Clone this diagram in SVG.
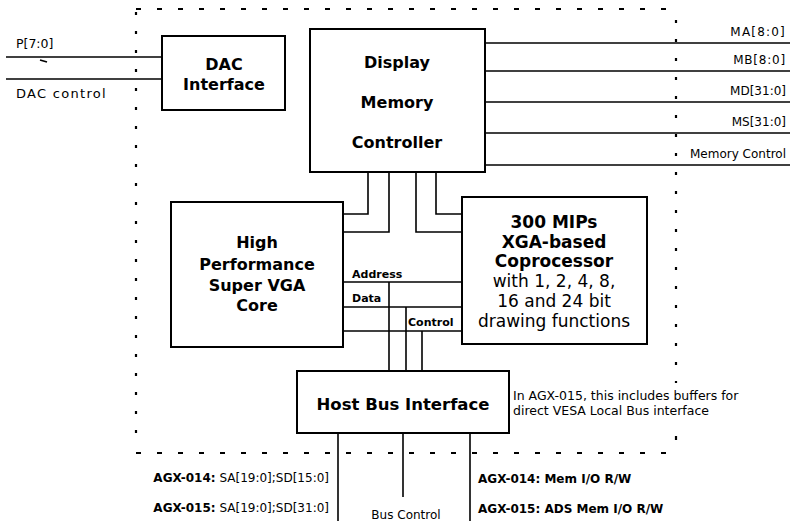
<svg xmlns="http://www.w3.org/2000/svg" width="790" height="521" viewBox="0 0 790 521">
<style>
.box{fill:#fff;stroke:#000;stroke-width:2}
.ln{fill:none;stroke:#000;stroke-width:1.6}
.bd{fill:none;stroke:#000;stroke-width:2.2}
.big{font-family:"DejaVu Sans",sans-serif;font-weight:bold;font-size:16px;text-anchor:middle;fill:#000}
.reg{font-family:"DejaVu Sans",sans-serif;font-size:17px;text-anchor:middle;fill:#000}
.sm{font-family:"DejaVu Sans",sans-serif;font-size:12px;fill:#000}
.smb{font-family:"DejaVu Sans",sans-serif;font-size:11px;font-weight:bold;fill:#000}
.note{font-family:"DejaVu Sans",sans-serif;font-size:12.5px;fill:#000}
</style>
<rect width="790" height="521" fill="#fff"/>
<g id="boundary">
<line class="bd" x1="136" y1="9" x2="676" y2="9" stroke-dasharray="5 16"/>
<line class="bd" x1="136" y1="453" x2="676" y2="453" stroke-dasharray="5 16"/>
<line class="bd" x1="136" y1="12" x2="136" y2="446" stroke-dasharray="3 16"/>
<line class="bd" x1="676" y1="20" x2="676" y2="383" stroke-dasharray="3 16"/>
<line class="bd" x1="676" y1="436" x2="676" y2="440"/>
</g>
<g id="connectors">
<line class="ln" x1="6" y1="57" x2="162" y2="57"/>
<line class="ln" x1="6" y1="79" x2="162" y2="79"/>
<line class="ln" x1="40" y1="60" x2="47" y2="62"/>
<line class="ln" x1="485" y1="43" x2="790" y2="43"/>
<line class="ln" x1="485" y1="71" x2="790" y2="71"/>
<line class="ln" x1="485" y1="102" x2="790" y2="102"/>
<line class="ln" x1="485" y1="133" x2="790" y2="133"/>
<line class="ln" x1="485" y1="165" x2="790" y2="165"/>
<polyline class="ln" points="368,172 368,214 343,214"/>
<polyline class="ln" points="389,172 389,232 343,232"/>
<polyline class="ln" points="416,172 416,232 462,232"/>
<polyline class="ln" points="436,172 436,214 462,214"/>
<line class="ln" x1="343" y1="282" x2="462" y2="282"/>
<line class="ln" x1="343" y1="307" x2="462" y2="307"/>
<line class="ln" x1="343" y1="331" x2="462" y2="331"/>
<line class="ln" x1="389" y1="282" x2="389" y2="371"/>
<line class="ln" x1="406" y1="307" x2="406" y2="371"/>
<line class="ln" x1="422" y1="331" x2="422" y2="371"/>
<line class="ln" x1="338" y1="433" x2="338" y2="521"/>
<line class="ln" x1="403" y1="433" x2="403" y2="497"/>
<line class="ln" x1="470" y1="433" x2="470" y2="521"/>
</g>
<g id="dac">
<rect class="box" x="162" y="36" width="123" height="74"/>
<text class="big" x="224" y="70">DAC</text>
<text class="big" x="224" y="90">Interface</text>
</g>
<g id="dmc">
<rect class="box" x="310" y="29" width="175" height="143"/>
<text class="big" x="397" y="68">Display</text>
<text class="big" x="397" y="108">Memory</text>
<text class="big" x="397" y="148">Controller</text>
</g>
<g id="svga">
<rect class="box" x="171" y="202" width="172" height="145"/>
<text class="big" x="257" y="248">High</text>
<text class="big" x="257" y="270">Performance</text>
<text class="big" x="257" y="291">Super VGA</text>
<text class="big" x="257" y="311">Core</text>
</g>
<g id="coproc">
<rect class="box" x="462" y="197" width="185" height="147"/>
<text class="big" x="554" y="228" style="font-size:17px">300 MIPs</text>
<text class="big" x="554" y="248" style="font-size:17px">XGA-based</text>
<text class="big" x="554" y="267" style="font-size:17px">Coprocessor</text>
<text class="reg" x="554" y="287">with 1, 2, 4, 8,</text>
<text class="reg" x="554" y="307">16 and 24 bit</text>
<text class="reg" x="554" y="327">drawing functions</text>
</g>
<g id="hbi">
<rect class="box" x="297" y="371" width="212" height="62"/>
<text class="big" x="403" y="410" style="font-size:16.5px">Host Bus Interface</text>
</g>
<g id="labels">
<text class="sm" x="16" y="48" style="font-size:12.5px">P[7:0]</text>
<text class="sm" x="16" y="98" style="font-size:13px;letter-spacing:1.3px">DAC control</text>
<text class="sm" x="786" y="36" text-anchor="end" style="letter-spacing:1.2px">MA[8:0]</text>
<text class="sm" x="786" y="64" text-anchor="end" style="letter-spacing:0.8px">MB[8:0]</text>
<text class="sm" x="786" y="95" text-anchor="end">MD[31:0]</text>
<text class="sm" x="786" y="126" text-anchor="end">MS[31:0]</text>
<text class="sm" x="786" y="158" text-anchor="end">Memory Control</text>
<text class="smb" x="352" y="278">Address</text>
<text class="smb" x="352" y="302">Data</text>
<text class="smb" x="408" y="326">Control</text>
<text class="note" x="513" y="400">In AGX-015, this includes buffers for</text>
<text class="note" x="513" y="415">direct VESA Local Bus interface</text>
<text class="sm" x="329" y="482" text-anchor="end"><tspan font-weight="bold">AGX-014:</tspan> SA[19:0];SD[15:0]</text>
<text class="sm" x="329" y="512" text-anchor="end"><tspan font-weight="bold">AGX-015:</tspan> SA[19:0];SD[31:0]</text>
<text class="sm" x="406" y="519" text-anchor="middle">Bus Control</text>
<text class="sm" x="478" y="483" font-weight="bold">AGX-014: Mem I/O R/W</text>
<text class="sm" x="478" y="513" font-weight="bold">AGX-015: ADS Mem I/O R/W</text>
</g>
</svg>
